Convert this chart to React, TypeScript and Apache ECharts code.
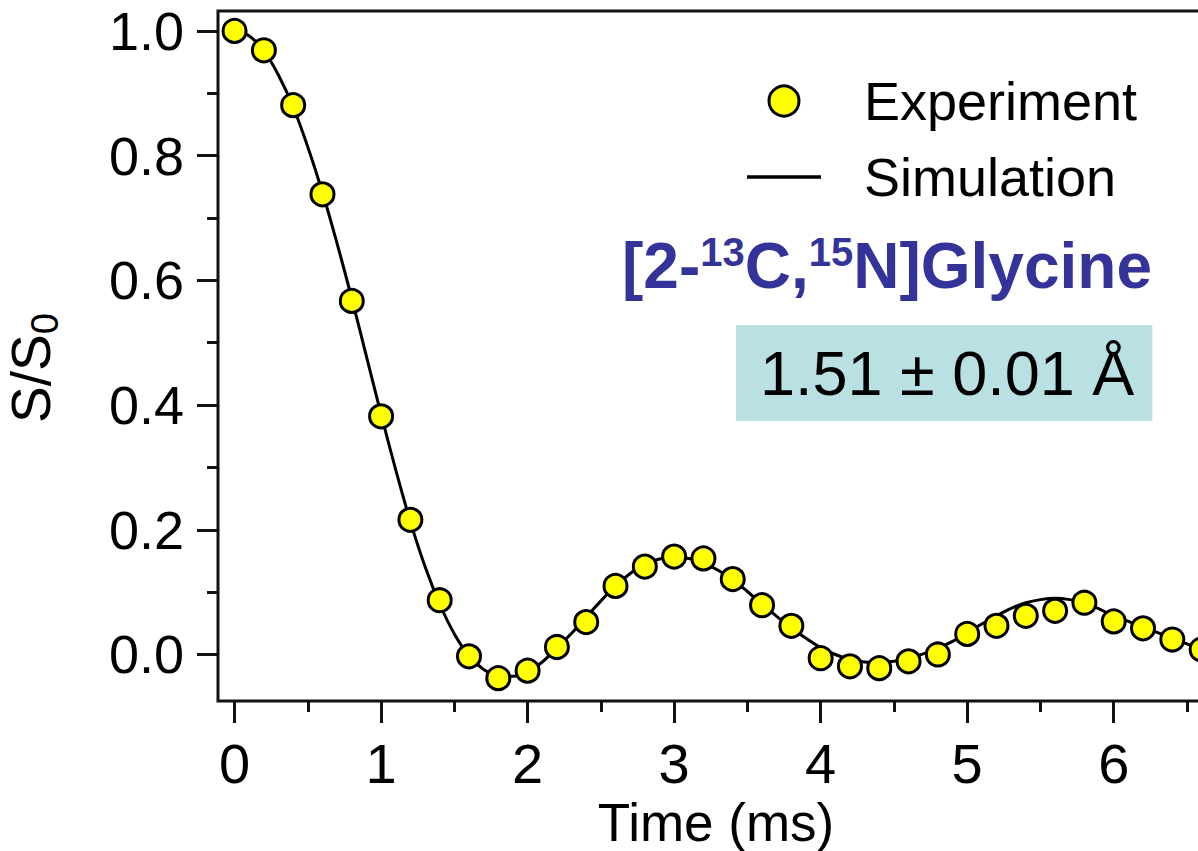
import React, { useEffect, useRef } from "react";
import * as echarts from "echarts";

const expTime = [0, 0.2, 0.4, 0.6, 0.8, 1.0, 1.2, 1.4, 1.6, 1.8, 2.0, 2.2, 2.4, 2.6, 2.8, 3.0, 3.2, 3.4, 3.6, 3.8, 4.0, 4.2, 4.4, 4.6, 4.8, 5.0, 5.2, 5.4, 5.6, 5.8, 6.0, 6.2, 6.4, 6.6];
const expSignal = [1.0, 0.969, 0.881, 0.738, 0.567, 0.382, 0.216, 0.087, -0.003, -0.038, -0.026, 0.012, 0.052, 0.11, 0.141, 0.157, 0.154, 0.121, 0.079, 0.046, -0.006, -0.019, -0.022, -0.011, 0.0, 0.033, 0.046, 0.062, 0.07, 0.083, 0.053, 0.042, 0.024, 0.008];

const simTime = [0, 0.1, 0.2, 0.3, 0.4, 0.5, 0.6, 0.7, 0.8, 0.9, 1.0, 1.1, 1.2, 1.3, 1.4, 1.5, 1.6, 1.7, 1.8, 1.9, 2.0, 2.1, 2.2, 2.3, 2.4, 2.5, 2.6, 2.7, 2.8, 2.9, 3.0, 3.1, 3.2, 3.3, 3.4, 3.5, 3.6, 3.7, 3.8, 3.9, 4.0, 4.1, 4.2, 4.3, 4.4, 4.5, 4.6, 4.7, 4.8, 4.9, 5.0, 5.1, 5.2, 5.3, 5.4, 5.5, 5.6, 5.7, 5.8, 5.9, 6.0, 6.1, 6.2, 6.3, 6.4, 6.5, 6.6, 6.7, 6.8];
const simSignal = [1.0, 0.992, 0.968, 0.929, 0.878, 0.814, 0.741, 0.659, 0.571, 0.478, 0.385, 0.296, 0.213, 0.141, 0.081, 0.033, -0.002, -0.024, -0.034, -0.035, -0.028, -0.012, 0.01, 0.034, 0.06, 0.086, 0.11, 0.13, 0.145, 0.153, 0.156, 0.154, 0.147, 0.135, 0.12, 0.101, 0.081, 0.061, 0.043, 0.026, 0.011, 0.0, -0.008, -0.012, -0.013, -0.011, -0.006, 0.001, 0.01, 0.021, 0.035, 0.049, 0.062, 0.074, 0.083, 0.088, 0.09, 0.088, 0.083, 0.073, 0.062, 0.053, 0.044, 0.035, 0.026, 0.017, 0.008, 0.001, -0.005];

const xMajorTicks = [0, 1, 2, 3, 4, 5, 6];
const xMinorTicks = [0.5, 1.5, 2.5, 3.5, 4.5, 5.5, 6.5];
const yMajorTicks = [0, 0.2, 0.4, 0.6, 0.8, 1.0];
const yMinorTicks = [0.1, 0.3, 0.5, 0.7, 0.9];

const X_MIN = -0.113;
const X_MAX = 6.78;
const Y_MIN = -0.0746;
const Y_MAX = 1.032;

const FONT = "'Liberation Sans', Arial, Helvetica, sans-serif";
const INK = "#111111";

export default function App() {
  const ref = useRef<HTMLDivElement>(null);

  useEffect(() => {
    document.body.style.margin = "0";
    const chart = echarts.init(ref.current!, undefined, { renderer: "svg" });
    const tickLine = { lineStyle: { color: INK, width: 3 } };
    const noLine = { show: false, onZero: false };
    const option: any = {
      animation: false,
      backgroundColor: "#ffffff",
      textStyle: { fontFamily: FONT },
      grid: {
        left: 218,
        top: 11,
        width: 1010,
        bottom: 150,
        show: true,
        borderColor: INK,
        borderWidth: 3,
        backgroundColor: "transparent",
        containLabel: false,
        outerBoundsMode: "none",
      },
      title: [
        {
          text: "{b|[2-}{s|13}{b|C,}{s|15}{b|N]Glycine}",
          right: 46,
          top: 231,
          padding: 0,
          textStyle: {
            rich: {
              b: { fontSize: 64, fontWeight: "bold", color: "#333399", fontFamily: FONT, lineHeight: 70 },
              s: { fontSize: 40, fontWeight: "bold", color: "#333399", fontFamily: FONT, padding: [0, 0, 28, 0] },
            },
          },
        },
        {
          text: "1.51 ± 0.01 Å",
          left: 736,
          top: 325,
          padding: [0, 18, 0, 24],
          backgroundColor: "#b9e0e3",
          textStyle: { fontSize: 63, fontWeight: "normal", color: "#000000", fontFamily: FONT, lineHeight: 96 },
        },
      ],
      legend: {
        orient: "vertical",
        left: 747,
        top: 71,
        padding: 0,
        itemWidth: 74,
        itemHeight: 30,
        itemGap: 16,
        textStyle: { fontSize: 54, color: "#000000", fontFamily: FONT, lineHeight: 60, padding: [0, 0, 0, 38] },
        data: [
          { name: "Experiment", icon: "circle", itemStyle: { borderWidth: 3 } },
          { name: "Simulation", icon: "path://M0 0 H100 V5 H0 Z" },
        ],
      },
      xAxis: [
        {
          type: "value",
          position: "bottom",
          min: X_MIN,
          max: X_MAX,
          name: "Time (ms)",
          nameLocation: "middle",
          nameGap: 91,
          nameTextStyle: { fontSize: 53, lineHeight: 50, color: "#000000", fontFamily: FONT, padding: [0, 14, 0, 0] },
          axisLine: noLine,
          splitLine: { show: false },
          axisTick: { show: true, inside: false, length: 22, customValues: xMajorTicks, ...tickLine },
          axisLabel: { customValues: xMajorTicks, fontSize: 56, color: "#000000", margin: 34, fontFamily: FONT },
        },
        {
          type: "value",
          position: "bottom",
          min: X_MIN,
          max: X_MAX,
          axisLine: noLine,
          splitLine: { show: false },
          axisTick: { show: true, inside: false, length: 11, customValues: xMinorTicks, ...tickLine },
          axisLabel: { show: false },
        },
      ],
      yAxis: [
        {
          type: "value",
          position: "left",
          min: Y_MIN,
          max: Y_MAX,
          name: "{a|S/S}{b|0}",
          nameLocation: "middle",
          nameRotate: 90,
          nameGap: 154,
          nameTextStyle: {
            padding: [0, 24, 0, 0],
            rich: {
              a: { fontSize: 55, color: "#000000", fontFamily: FONT },
              b: { fontSize: 38, color: "#000000", fontFamily: FONT, padding: [28, 0, 0, 0] },
            },
          },
          axisLine: noLine,
          splitLine: { show: false },
          axisTick: { show: true, inside: false, length: 21, customValues: yMajorTicks, ...tickLine },
          axisLabel: {
            customValues: yMajorTicks,
            fontSize: 54,
            color: "#000000",
            margin: 34,
            fontFamily: FONT,
            formatter: (v: number) => v.toFixed(1),
          },
        },
        {
          type: "value",
          position: "left",
          min: Y_MIN,
          max: Y_MAX,
          axisLine: noLine,
          splitLine: { show: false },
          axisTick: { show: true, inside: false, length: 11, customValues: yMinorTicks, ...tickLine },
          axisLabel: { show: false },
        },
      ],
      series: [
        {
          name: "Simulation",
          type: "line",
          xAxisIndex: 0,
          yAxisIndex: 0,
          data: simTime.map((t, i) => [t, simSignal[i]]),
          symbol: "none",
          smooth: 0.3,
          clip: true,
          lineStyle: { color: "#000000", width: 3 },
          itemStyle: { color: "#000000" },
          z: 2,
        },
        {
          name: "Experiment",
          type: "scatter",
          xAxisIndex: 0,
          yAxisIndex: 0,
          data: expTime.map((t, i) => [t, expSignal[i]]),
          symbol: "circle",
          symbolSize: 23,
          itemStyle: { color: "#ffff00", borderColor: "#000000", borderWidth: 3, opacity: 1 },
          z: 3,
        },
      ],
    };
    chart.setOption(option);
    return () => chart.dispose();
  }, []);

  return (
    <div
      ref={ref}
      style={{ position: "fixed", left: 0, top: 0, width: 1198, height: 851, background: "#fff" }}
    />
  );
}
